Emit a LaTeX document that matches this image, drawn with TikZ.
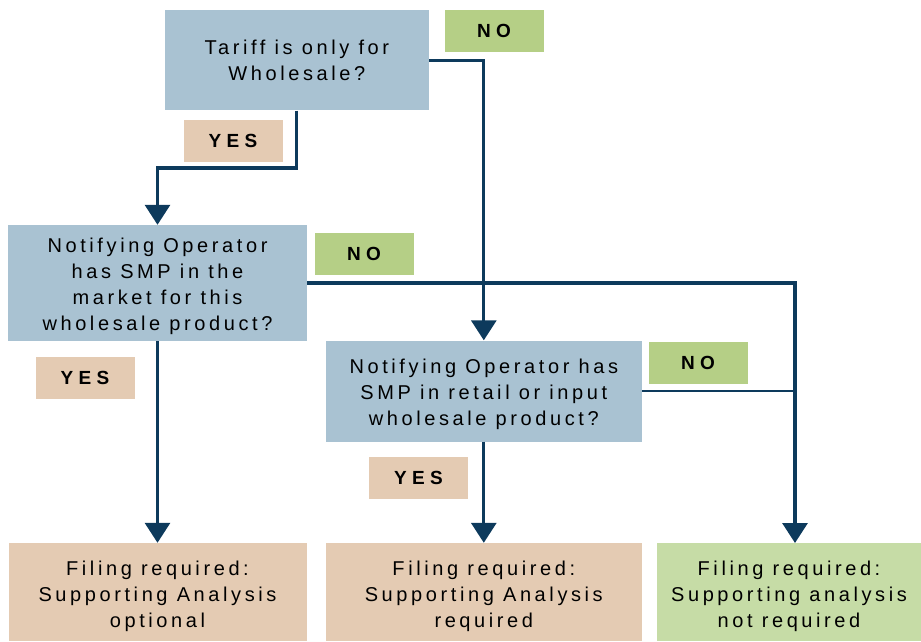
\documentclass[tikz,border=0pt]{standalone}
\usepackage{fontspec}
\setmainfont{Liberation Sans}
\newfontfamily\boxfont{Liberation Sans}[LetterSpace=18]
\newfontfamily\labfont{Liberation Sans}[LetterSpace=28]
\usetikzlibrary{arrows.meta}
\definecolor{qblue}{HTML}{A9C2D2}
\definecolor{qtan}{HTML}{E4CBB3}
\definecolor{qgreen}{HTML}{B5CF86}
\definecolor{qlgreen}{HTML}{C6DCA6}
\definecolor{qline}{HTML}{0D3A5C}
\newcommand{\upstrut}[1]{\rule{0pt}{#1}}
\tikzset{
  qbox/.style={fill=qblue, draw=none, inner sep=0pt, align=center,
    font=\boxfont\fontsize{20}{26}\selectfont},
  obox/.style={draw=none, inner sep=0pt, align=center,
    font=\boxfont\fontsize{20}{26}\selectfont},
  lab/.style={draw=none, inner sep=0pt, minimum width=99pt, minimum height=42pt,
    font=\labfont\bfseries\fontsize{19}{22}\selectfont},
  yeslab/.style={lab, fill=qtan},
  nolab/.style={lab, fill=qgreen},
  conn/.style={draw=qline, line width=3.2pt},
  thinconn/.style={draw=qline, line width=2.8pt},
  arr/.style={conn, -{Triangle[width=25pt,length=20pt]}}
}
\begin{document}
\begin{tikzpicture}[x=1pt,y=-1pt]
\useasboundingbox (0,0) rectangle (921,641);
% question boxes
\node[qbox, minimum width=264pt, minimum height=100pt] (q1) at (296.8,60.4) {Tariff is only for\\Wholesale?};
\node[qbox, minimum width=299pt, minimum height=116pt] (q2) at (157.5,283) {\upstrut{20.6pt}Notifying Operator\\has SMP in the\\market for this\\wholesale product?};
\node[qbox, minimum width=316pt, minimum height=101pt] (q3) at (483.8,391) {\upstrut{20.6pt}Notifying Operator has\\SMP in retail or input\\wholesale product?};
% outcome boxes
\node[obox, fill=qtan, minimum width=298pt, minimum height=98pt] (o1) at (157.5,592) {\upstrut{23.6pt}Filing required:\\Supporting Analysis\\optional};
\node[obox, fill=qtan, minimum width=316pt, minimum height=98pt] (o2) at (483.8,592) {\upstrut{23.6pt}Filing required:\\Supporting Analysis\\required};
\node[obox, fill=qlgreen, minimum width=265pt, minimum height=98pt] (o3) at (789,592) {\upstrut{23.6pt}Filing required:\\Supporting analysis\\not required};
% labels
\node[nolab] (n1) at (494,31) {NO};
\node[yeslab] (y1) at (233,141) {YES};
\node[nolab] (n2) at (364,254) {NO};
\node[yeslab] (y2) at (85,378) {YES};
\node[nolab] (n3) at (698,363) {NO};
\node[yeslab] (y3) at (418.5,478) {YES};
% connectors
\coordinate (bend1) at (296.8,168);
\coordinate (t3) at (795,543);
\draw[arr] (q1.south) -- (bend1) -| (q2.north);
\draw[arr] (q1.east) -| (q3.north);
\draw[arr] (q2.east) -| (t3);
\draw[thinconn] (q3.east) -- (q3.east -| t3);
\draw[arr] (q2.south) -- (o1.north);
\draw[arr] (q3.south) -- (o2.north);
\end{tikzpicture}
\end{document}
